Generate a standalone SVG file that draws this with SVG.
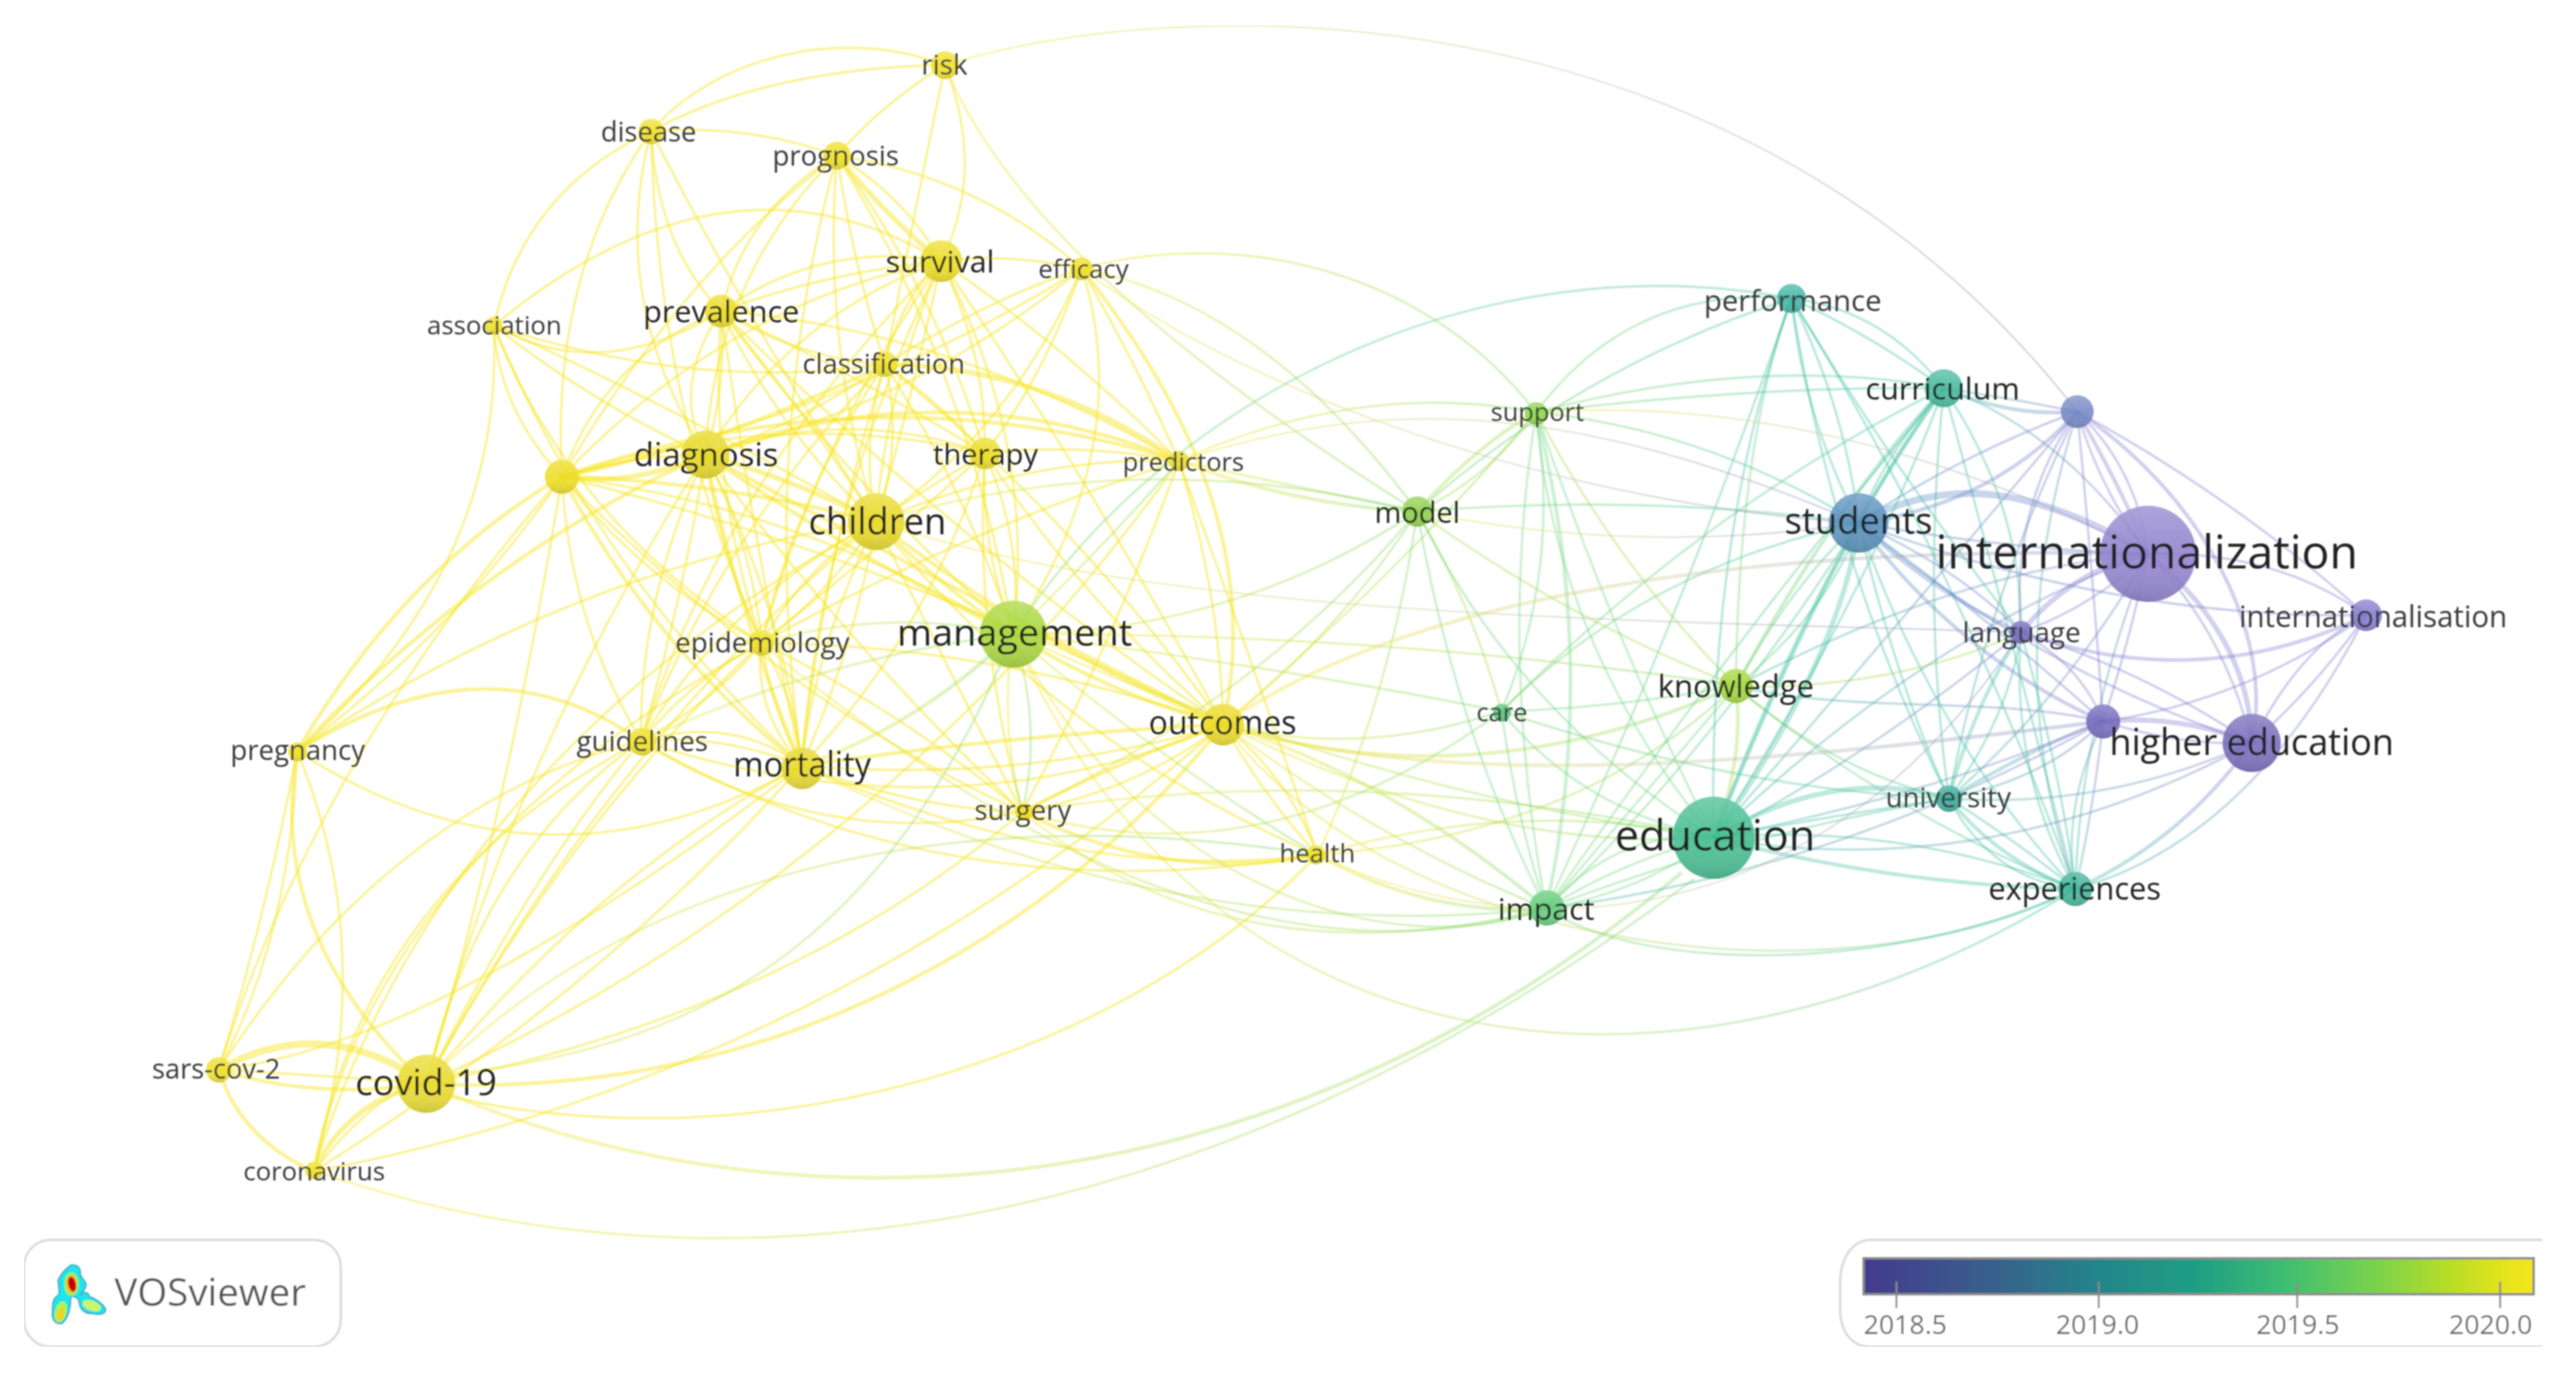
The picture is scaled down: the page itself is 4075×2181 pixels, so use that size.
<svg xmlns="http://www.w3.org/2000/svg" width="4075" height="2181" viewBox="0 0 4075 2181">
<style>
text{font-family:"Open Sans","Noto Sans","Liberation Sans",sans-serif}
.l{fill:#222;text-anchor:middle;transform:translateY(2px)}
.m{fill:#3a3a3a;text-anchor:middle;transform:translateY(2px)}
.e{fill:none;stroke-width:4;stroke-opacity:.34}
.e path{fill:none}
.n circle{opacity:.88}
.y{stroke:#f6e51e;stroke-opacity:.46}.yg{stroke:url(#gyg)}.yt{stroke:url(#gyt)}.yb{stroke:url(#gyb)}.g{stroke:#6fd680}.gt{stroke:url(#ggt)}.t{stroke:#3dbf9f}.tp{stroke:url(#gtp)}.bp{stroke:url(#gbp)}.p{stroke:#7f76cc}.lm{stroke:#a5dc4a}
.w3{stroke-width:3}.w6{stroke-width:6}.w8{stroke-width:8}.w10{stroke-width:11}
.box{fill:#fff;stroke:#dcdcdc;stroke-width:4}
</style>
<defs>
<filter id="soft" x="0" y="0" width="100%" height="100%"><feGaussianBlur stdDeviation="1"/></filter>
<linearGradient id="shade" x1="0" y1="0" x2="0" y2="1"><stop offset="0" stop-color="#fff" stop-opacity=".22"/><stop offset=".5" stop-color="#fff" stop-opacity="0"/><stop offset="1" stop-color="#000" stop-opacity=".14"/></linearGradient>
<linearGradient id="gyg"><stop offset="0" stop-color="#f6e51e"/><stop offset="1" stop-color="#7fd86a"/></linearGradient>
<linearGradient id="gyt"><stop offset="0" stop-color="#f6e51e"/><stop offset=".6" stop-color="#a0d870"/><stop offset="1" stop-color="#3dbf9f"/></linearGradient>
<linearGradient id="gyb"><stop offset="0" stop-color="#f6e51e"/><stop offset=".5" stop-color="#c4c79a"/><stop offset="1" stop-color="#7c84c8"/></linearGradient>
<linearGradient id="ggt"><stop offset="0" stop-color="#7fd86a"/><stop offset="1" stop-color="#3dbfa5"/></linearGradient>
<linearGradient id="gtp"><stop offset="0" stop-color="#3dbf9f"/><stop offset="1" stop-color="#7f76cc"/></linearGradient>
<linearGradient id="gbp"><stop offset="0" stop-color="#4f8fc0"/><stop offset="1" stop-color="#7f76cc"/></linearGradient>
<linearGradient id="vir"><stop offset="0" stop-color="#453a8e"/><stop offset=".2" stop-color="#38628c"/><stop offset=".36" stop-color="#23878a"/><stop offset=".5" stop-color="#1f9f84"/><stop offset=".63" stop-color="#3fbe72"/><stop offset=".75" stop-color="#74d052"/><stop offset=".87" stop-color="#b5dd28"/><stop offset=".96" stop-color="#e6e41a"/><stop offset="1" stop-color="#f5e51b"/></linearGradient>
</defs>
<rect width="4075" height="2181" fill="#fff"/>
<g filter="url(#soft)">
<g id="connectors">
<g class="e y">
<path d="M1030,208C1130,90 1330,40 1495,103"/><path d="M1030,208C1150,140 1320,105 1495,103"/><path d="M781,515Q830,300 1030,208"/><path d="M1495,103Q1400,160 1324,246"/><path d="M1495,103Q1450,320 1400,576"/><path d="M1495,103Q1560,270 1489,413"/>
<path d="M1030,208Q1180,195 1324,246"/><path d="M1030,208Q1040,390 1141,492"/><path d="M1030,208Q960,470 1116,719"/><path d="M1030,208Q1180,500 1386,825"/><path d="M1030,208Q870,430 889,754"/><path d="M1030,208Q1040,650 1205,1017"/>
<path class="w8" d="M1324,246Q1400,340 1489,413"/><path d="M1324,246Q1430,310 1489,413"/><path d="M1324,246Q1180,330 1141,492"/><path d="M1324,246Q1130,440 1116,719"/><path d="M1324,246Q1350,420 1400,576"/><path d="M1324,246Q1300,540 1386,825"/><path d="M1324,246Q1480,460 1558,717"/><path d="M1324,246Q1080,430 889,754"/><path d="M1324,246Q1550,280 1711,425"/><path d="M1324,246Q1530,580 1603,1003"/><path d="M1324,246Q1200,700 1268,1211"/>
<path d="M781,515Q1150,210 1489,413"/><path d="M1141,492Q1300,380 1489,413"/><path d="M1141,492Q1310,430 1489,413"/><path d="M1116,719Q1250,500 1489,413"/><path d="M889,754Q1150,480 1489,413"/><path d="M1489,413Q1420,480 1400,576"/><path d="M1489,413Q1400,620 1386,825"/><path d="M1489,413Q1440,640 1386,825"/><path d="M1489,413Q1560,560 1558,717"/><path d="M1489,413Q1640,700 1603,1003"/><path d="M1489,413Q1700,720 1935,1146"/><path d="M1489,413Q1290,700 1205,1017"/><path d="M1489,413Q1300,800 1268,1211"/><path d="M1489,413Q1700,560 1865,729"/><path d="M1489,413Q1600,400 1711,425"/><path d="M1489,413Q1150,750 1014,1172"/>
<path d="M1400,576Q1570,470 1711,425"/><path d="M1116,719Q1450,640 1711,425"/><path d="M889,754Q1350,650 1711,425"/><path d="M1386,825Q1600,680 1711,425"/><path d="M1558,717Q1650,600 1711,425"/><path d="M1603,1003Q1800,700 1711,425"/><path class="w6" d="M1711,425C1850,600 2000,850 1935,1146"/><path d="M1711,425Q1800,580 1865,729"/>
<path d="M781,515Q950,610 1141,492"/><path d="M1141,492Q1270,570 1400,576"/><path d="M1141,492Q1060,610 1116,719"/><path d="M1141,492Q1150,610 1116,719"/><path d="M889,754Q960,560 1141,492"/><path d="M1141,492Q1230,680 1386,825"/><path d="M1141,492Q1280,660 1386,825"/><path d="M1141,492Q1350,590 1558,717"/><path d="M1141,492Q1120,760 1205,1017"/><path d="M1141,492Q1340,760 1603,1003"/><path d="M1141,492Q1190,850 1268,1211"/><path d="M1141,492Q1500,850 1935,1146"/><path d="M1141,492Q1500,520 1865,729"/>
<path d="M781,515Q790,650 889,754"/><path d="M781,515Q940,640 1116,719"/><path d="M781,515Q1060,640 1386,825"/><path d="M781,515Q940,900 1268,1211"/><path d="M781,515Q1100,620 1400,576"/><path d="M781,515Q800,900 470,1188"/><path d="M781,515Q900,820 1205,1017"/>
<path d="M1116,719Q1270,670 1400,576"/><path class="w6" d="M889,754Q1150,700 1400,576"/><path d="M1400,576Q1490,640 1558,717"/><path d="M1400,576Q1360,700 1386,825"/><path d="M1400,576Q1430,700 1386,825"/><path d="M1400,576Q1530,780 1603,1003"/><path class="w8" d="M1400,576Q1650,580 1865,729"/><path d="M1400,576Q1260,780 1205,1017"/><path d="M1400,576Q1300,900 1268,1211"/><path d="M1400,576Q1700,820 1935,1146"/><path d="M1400,576Q1150,830 1014,1172"/>
<path class="w8" d="M889,754Q1000,770 1116,719"/><path d="M889,754Q1000,720 1116,719"/><path d="M1116,719Q1340,640 1558,717"/><path class="w8" d="M1116,719Q1260,760 1386,825"/><path class="w6" d="M1116,719Q1500,580 1865,729"/><path class="w6" d="M1116,719Q1350,880 1603,1003"/><path d="M1116,719Q1140,880 1205,1017"/><path d="M1116,719Q1190,860 1205,1017"/><path class="w6" d="M1116,719Q1170,980 1268,1211"/><path d="M1116,719Q1240,960 1268,1211"/><path d="M1116,719Q1010,950 1014,1172"/><path d="M1116,719Q1080,950 1014,1172"/><path class="w6" d="M1116,719Q1520,940 1935,1146"/><path d="M1116,719Q1340,1020 1617,1284"/><path class="w6" d="M1116,719Q760,880 470,1188"/><path d="M1116,719Q810,1200 674,1714"/>
<path d="M889,754Q1230,640 1558,717"/><path class="w6" d="M889,754Q1130,760 1386,825"/><path class="w6" d="M889,754Q1380,580 1865,729"/><path d="M889,754Q1260,800 1603,1003"/><path d="M889,754Q1020,920 1205,1017"/><path class="w6" d="M889,754Q1030,1020 1268,1211"/><path d="M889,754Q900,980 1014,1172"/><path class="w6" d="M889,754Q640,900 470,1188"/><path d="M889,754Q720,1000 470,1188"/><path d="M889,754Q800,1300 674,1714"/><path d="M889,754Q500,1200 346,1692"/><path d="M889,754Q1400,880 1935,1146"/><path d="M889,754Q1250,1120 1617,1284"/>
<path d="M1386,825Q1470,770 1558,717"/><path d="M1558,717Q1620,860 1603,1003"/><path d="M1558,717Q1550,860 1603,1003"/><path d="M1205,1017Q1400,860 1558,717"/><path d="M1268,1211Q1470,1000 1558,717"/><path d="M1558,717Q1720,960 1935,1146"/><path d="M1558,717Q1540,1000 1617,1284"/><path d="M1558,717Q1710,700 1865,729"/>
<path d="M1386,825Q1630,720 1865,729"/><path d="M1865,729Q1930,940 1935,1146"/><path d="M1617,1284Q1760,1020 1865,729"/><path d="M1205,1017Q1520,840 1865,729"/><path d="M1865,729Q2000,1100 2084,1352"/>
<path class="w6" d="M1386,825Q1490,930 1603,1003"/><path d="M1386,825Q1270,900 1205,1017"/><path d="M1386,825Q1310,940 1205,1017"/><path d="M1386,825Q1290,1020 1268,1211"/><path d="M1386,825Q1350,1030 1268,1211"/><path d="M1386,825Q1150,950 1014,1172"/><path class="w6" d="M1386,825Q1650,1030 1935,1146"/><path d="M1386,825Q1500,1060 1617,1284"/><path d="M470,1188Q900,900 1386,825"/><path d="M674,1714Q960,1180 1386,825"/><path d="M1386,825Q1680,1180 2084,1352"/>
<path d="M1014,1172Q1100,1070 1205,1017"/><path d="M1014,1172Q1130,1110 1205,1017"/><path d="M1205,1017Q1220,1120 1268,1211"/><path d="M1205,1017Q1260,1110 1268,1211"/><path d="M1205,1017Q1190,1120 1268,1211"/><path d="M1205,1017Q1420,1120 1617,1284"/><path d="M1205,1017Q1570,1020 1935,1146"/><path class="w6" d="M470,1188Q770,1000 1014,1172"/>
<path d="M1014,1172Q1140,1160 1268,1211"/><path d="M1014,1172Q1160,1130 1268,1211"/><path d="M1268,1211Q1450,1280 1617,1284"/><path class="w6" d="M1268,1211Q1620,1160 1935,1146"/><path d="M1268,1211Q1620,1240 1935,1146"/><path d="M1268,1211Q1700,1400 2084,1352"/><path d="M470,1188Q860,1440 1268,1211"/><path d="M674,1714Q950,1380 1268,1211"/><path d="M346,1692Q700,1650 1268,1211"/><path d="M496,1853Q960,1560 1268,1211"/>
<path d="M1014,1172Q1300,1350 1617,1284"/><path d="M1014,1172Q1500,1330 1935,1146"/><path d="M674,1714Q760,1350 1014,1172"/><path d="M674,1714Q840,1380 1014,1172"/><path d="M346,1692Q620,1270 1014,1172"/><path d="M1014,1172Q1500,1450 2084,1352"/>
<path d="M470,1188Q420,1450 346,1692"/><path d="M470,1188Q460,1480 346,1692"/><path class="w6" d="M470,1188Q420,1480 674,1714"/><path d="M470,1188Q600,1500 496,1853"/>
<path class="w10" d="M346,1692Q510,1600 674,1714"/><path d="M346,1692Q500,1700 674,1714"/><path class="w6" d="M346,1692Q500,1740 674,1714"/><path class="w8" d="M496,1853Q550,1740 674,1714"/><path class="w6" d="M346,1692Q380,1800 496,1853"/><path d="M674,1714Q900,1300 1205,1017"/><path d="M674,1714Q1250,1600 1617,1284"/><path class="w6" d="M674,1714C1200,1740 1650,1500 1935,1146"/><path d="M674,1725C1150,1850 1750,1700 2084,1352"/><path d="M674,1714Q1400,1380 1865,729"/>
<path d="M496,1853Q580,1400 1014,1172"/><path d="M496,1853Q600,1350 1205,1017"/><path d="M496,1853Q700,1200 1386,825"/><path d="M496,1853Q600,1720 674,1714"/><path d="M496,1853Q1300,1700 1935,1146"/>
<path class="w6" d="M1603,1003Q1760,1100 1935,1146"/><path class="w6" d="M1617,1284Q1780,1200 1935,1146"/><path d="M1617,1284Q1800,1250 1935,1146"/><path d="M1935,1146Q2000,1260 2084,1352"/><path d="M1935,1146Q2040,1230 2084,1352"/><path class="w6" d="M1617,1284Q1850,1400 2084,1352"/>
</g>
<g class="e yg">
<path d="M1495,103Q1620,420 2242,809"/><path d="M1711,425C1950,360 2250,420 2430,652"/><path d="M1711,425Q2000,480 2242,809"/>
<path class="w6" d="M1865,729Q2050,800 2242,809"/><path d="M1865,729Q2050,770 2242,809"/><path d="M1386,825Q1800,700 2242,809"/><path d="M1865,729Q2150,600 2430,652"/><path d="M1603,1003Q1740,870 1865,729"/>
<path class="w6" d="M1268,1211Q1450,1150 1603,1003"/><path d="M1014,1172Q1300,1040 1603,1003"/><path d="M1205,1017Q1400,960 1603,1003"/><path d="M1603,1003Q1580,1140 1617,1284"/><path d="M1603,1003Q1650,1150 1617,1284"/><path d="M1603,1003Q1830,1200 2084,1352"/><path d="M1603,1003Q1950,1000 2242,809"/><path d="M1603,1003Q2000,1050 2375,1125"/><path d="M1603,1003Q2180,1000 2746,1084"/>
<path class="w6" d="M674,1714C1150,1930 1950,1980 2660,1380"/><path d="M496,1851C1000,2030 1800,2050 2680,1390"/><path d="M700,1700C1100,1660 1400,1500 1603,1003"/><path d="M674,1714C1000,1380 1500,1260 2084,1352"/><path d="M1603,1003C1800,1400 2200,1530 2446,1437"/>
<path class="w6" d="M1935,1146Q2200,1230 2446,1437"/><path d="M1935,1146Q2180,1330 2446,1437"/><path d="M1935,1146Q2150,1200 2375,1125"/><path class="w6" d="M1935,1146Q2340,1270 2746,1084"/><path d="M1935,1146Q2350,1350 2711,1325"/><path d="M1935,1146Q2120,1000 2242,809"/><path d="M1935,1146Q2220,900 2430,652"/><path class="w6" d="M2084,1352Q2260,1450 2446,1437"/><path d="M2084,1352Q2500,1320 2746,1084"/><path d="M2084,1352Q2400,1260 2711,1325"/><path d="M1617,1284Q2150,1200 2711,1325"/><path d="M1617,1284Q1950,1560 2446,1437"/><path d="M1205,1017Q1900,1600 2446,1437"/><path d="M1617,1284Q2000,1400 2375,1125"/><path d="M1268,1211Q1850,1500 2446,1437"/><path d="M1617,1284Q2000,1100 2242,809"/><path d="M2242,809Q2200,1100 2084,1352"/><path d="M1603,1003Q2150,1250 2711,1325"/>
</g>
<g class="e lm">
<path class="w6" d="M2242,809Q2340,700 2430,652"/><path d="M2242,809Q2350,760 2430,652"/><path d="M2242,809Q2330,960 2375,1125"/><path d="M2242,809Q2480,980 2746,1084"/><path d="M2430,652Q2560,900 2746,1084"/><path class="w6" d="M2746,1086Q2760,1200 2711,1325"/><path d="M2746,1086Q3000,1090 3197,1000"/>
</g>
<g class="e g">
<path d="M2242,809Q2400,1130 2711,1325"/><path d="M2242,809Q2300,1150 2446,1437"/><path d="M2430,652Q2470,900 2375,1125"/><path d="M2430,652Q2460,1020 2711,1325"/><path d="M2430,652Q2560,1030 2711,1325"/><path class="w6" d="M2430,652Q2530,1050 2446,1437"/><path d="M2430,652Q2370,1030 2446,1437"/><path d="M2375,1125Q2400,1300 2446,1437"/><path d="M2375,1125Q2500,1280 2711,1325"/><path d="M2375,1125Q2560,1120 2746,1084"/><path d="M2746,1086Q2580,1280 2446,1437"/><path d="M2446,1437Q2570,1360 2711,1325"/><path d="M2446,1437Q2600,1410 2711,1325"/><path d="M2446,1437Q2560,1310 2711,1325"/>
</g>
<g class="e yt">
<path d="M1603,1003C1900,1700 2650,1800 3283,1406"/><path d="M1935,1146C2200,1500 2900,1600 3283,1406"/>
</g>
<g class="e gt">
<path d="M1603,1003C1850,620 2350,380 2834,472"/><path d="M2446,1437C2600,1540 3000,1540 3283,1406"/>
<path d="M2430,652Q2580,450 2834,472"/><path d="M2430,652Q2780,560 3075,614"/><path d="M2430,652Q2780,610 3075,614"/><path d="M2242,809Q2500,580 2834,472"/><path d="M2375,1125Q2600,900 2940,827"/><path d="M2375,1125Q2700,800 3075,614"/><path d="M2375,1125Q2750,1250 3083,1263"/><path d="M2746,1086Q2830,930 2940,827"/><path d="M2746,1086Q2900,960 2940,827"/><path class="w6" d="M2746,1086Q2900,800 3075,614"/><path d="M2746,1086Q2900,1220 3083,1263"/><path d="M2746,1086Q2980,1280 3283,1406"/><path d="M2746,1086Q2750,700 2834,472"/>
<path d="M2446,1437Q2700,1200 2940,827"/><path d="M2446,1437Q2750,1320 3083,1263"/><path d="M2446,1437Q2650,1000 2834,472"/><path d="M2446,1437Q2750,1000 3075,614"/><path d="M2242,809Q2600,780 2940,827"/><path d="M2430,652Q2700,680 2940,827"/>
</g>
<g class="e t">
<path class="w8" d="M2711,1325C2800,1200 2920,1000 2940,827"/><path class="w6" d="M2711,1325Q2820,1050 2940,827"/><path class="w6" d="M2711,1325Q2870,900 3075,614"/><path d="M2711,1325Q2950,950 3075,614"/><path d="M2711,1325Q2700,850 2834,472"/><path class="w8" d="M2711,1325Q2900,1210 3083,1263"/><path d="M2711,1325Q2900,1290 3083,1263"/><path class="w6" d="M2711,1325Q3000,1400 3283,1406"/><path d="M2711,1325Q3000,1300 3283,1406"/>
<path d="M2834,472Q2980,490 3075,614"/><path d="M2834,472Q2960,530 3075,614"/><path d="M2834,472Q2850,650 2940,827"/><path d="M2834,472Q2920,650 2940,827"/><path d="M2834,472Q3000,750 3197,1000"/><path d="M2834,472Q2900,900 3083,1263"/><path d="M2834,472Q3100,900 3283,1406"/>
<path class="w6" d="M2940,827Q3010,700 3075,614"/><path d="M2940,827Q2980,720 3075,614"/><path d="M3075,614Q3040,950 3083,1263"/><path d="M3075,614Q3180,1000 3283,1406"/><path d="M3075,614Q3200,800 3197,1000"/><path d="M2940,827Q3000,1080 3083,1263"/><path d="M2940,827Q3060,1170 3283,1406"/>
<path class="w6" d="M3083,1263Q3160,1360 3283,1406"/><path d="M3083,1263Q3190,1330 3283,1406"/><path d="M3083,1263Q3150,1390 3283,1406"/><path class="w6" d="M3083,1263Q3120,1120 3197,1000"/><path d="M3083,1263Q3180,1130 3197,1000"/><path d="M3197,1000Q3180,1220 3283,1406"/><path d="M3197,1000Q3260,1220 3283,1406"/>
</g>
<g class="e tp">
<path d="M2711,1325Q2950,1200 3197,1000"/><path d="M2711,1325Q3050,1260 3327,1141"/><path d="M2711,1325Q3150,1400 3562,1175"/><path d="M2711,1325Q3050,1000 3398,876"/><path d="M2711,1325Q2950,1050 3286,651"/><path d="M2446,1437Q2900,1380 3327,1141"/>
<path d="M2746,1086C2950,1130 3150,1100 3327,1141"/><path d="M2746,1086Q3100,900 3398,876"/>
<path class="w6" d="M3075,614Q3180,660 3286,651"/><path d="M3075,614Q3180,630 3286,651"/><path d="M3075,614Q3260,680 3398,876"/><path d="M3286,651Q3140,950 3083,1263"/><path d="M3286,651Q3160,1050 3283,1406"/>
<path d="M3083,1263Q3270,1100 3398,876"/><path d="M3398,876Q3290,1150 3283,1406"/><path class="w6" d="M3083,1263Q3220,1180 3327,1141"/><path d="M3083,1263Q3240,1230 3327,1141"/><path d="M3327,1141Q3260,1280 3283,1406"/><path d="M3327,1141Q3310,1290 3283,1406"/><path class="w6" d="M3283,1406Q3450,1330 3562,1175"/><path d="M3283,1406Q3560,1330 3743,973"/><path d="M3083,1263Q3330,1280 3562,1175"/>
</g>
<g class="e bp">
<path class="w6" d="M2940,827Q3150,800 3286,651"/><path d="M2940,827Q3100,720 3286,651"/><path class="w10" d="M2940,827C3080,750 3220,770 3398,876"/><path d="M2940,827Q3180,870 3398,876"/><path class="w6" d="M2940,827Q3060,940 3197,1000"/><path d="M2940,827Q3100,900 3197,1000"/><path class="w6" d="M2940,827Q3100,1040 3327,1141"/><path d="M2940,827Q3160,990 3327,1141"/><path d="M2940,827Q3220,1060 3562,1175"/><path d="M2940,827Q3350,980 3743,973"/>
</g>
<g class="e p">
<path d="M3286,651Q3380,740 3398,876"/><path d="M3286,651Q3320,770 3398,876"/><path class="w6" d="M3286,651Q3360,780 3398,876"/><path class="w6" d="M3286,651C3480,780 3600,1000 3562,1175"/><path d="M3286,651Q3180,800 3197,1000"/><path d="M3286,651Q3310,900 3327,1141"/><path d="M3286,651Q3540,790 3743,973"/>
<path class="w8" d="M3197,1000Q3280,900 3398,876"/><path d="M3197,1000Q3310,960 3398,876"/><path d="M3327,1141Q3370,1010 3398,876"/><path class="w8" d="M3398,876C3490,950 3560,1050 3562,1175"/><path d="M3398,876Q3520,1000 3562,1175"/><path d="M3398,876Q3600,870 3743,973"/>
<path class="w6" d="M3197,1000Q3480,1100 3743,973"/><path d="M3562,1175Q3660,1090 3743,973"/><path d="M3562,1175Q3640,1020 3743,973"/><path d="M3327,1141Q3550,1110 3743,973"/>
<path class="w8" d="M3327,1141Q3450,1130 3562,1175"/><path d="M3327,1141Q3450,1180 3562,1175"/><path d="M3197,1000Q3290,1050 3327,1141"/><path d="M3197,1000Q3390,1060 3562,1175"/>
</g>
<g class="e yb">
<path class="w3" d="M1495,103C1850,-10 2750,-40 3286,651"/><path class="w3" d="M1711,425C2000,640 2500,800 2940,827"/><path class="w3" d="M1386,825C1850,980 2600,980 3197,1000"/><path class="w6" d="M1935,1146C2200,960 2700,860 3398,876"/><path class="w6" d="M1935,1146C2300,1260 2850,1200 3327,1141"/><path class="w3" d="M2084,1352C2350,1480 2850,1530 3197,1000"/><path class="w3" d="M2430,652Q2900,620 3398,876"/><path class="w3" d="M2242,809Q2600,880 2940,827"/><path class="w3" d="M1865,729C2200,620 2500,640 2940,827"/>
</g>
</g>
<g id="n-risk" class="n"><circle cx="1495" cy="103" r="22" fill="#efe028"/><circle cx="1495" cy="103" r="22" fill="url(#shade)"/><text class="m" x="1494" y="116" font-size="44" textLength="73" lengthAdjust="spacingAndGlyphs">risk</text></g>
<g id="n-disease" class="n"><circle cx="1030" cy="208" r="20" fill="#efe028"/><circle cx="1030" cy="208" r="20" fill="url(#shade)"/><text class="m" x="1026" y="222" font-size="43" textLength="151" lengthAdjust="spacingAndGlyphs">disease</text></g>
<g id="n-prognosis" class="n"><circle cx="1324" cy="246" r="22" fill="#efe028"/><circle cx="1324" cy="246" r="22" fill="url(#shade)"/><text class="m" x="1322" y="260" font-size="43" textLength="200" lengthAdjust="spacingAndGlyphs">prognosis</text></g>
<g id="n-survival" class="n"><circle cx="1489" cy="413" r="33" fill="#ecdd26"/><circle cx="1489" cy="413" r="33" fill="url(#shade)"/><text class="l" x="1487" y="429" font-size="48" textLength="172" lengthAdjust="spacingAndGlyphs">survival</text></g>
<g id="n-efficacy" class="n"><circle cx="1711" cy="425" r="18" fill="#efe028"/><circle cx="1711" cy="425" r="18" fill="url(#shade)"/><text class="m" x="1714" y="438" font-size="41" textLength="143" lengthAdjust="spacingAndGlyphs">efficacy</text></g>
<g id="n-prevalence" class="n"><circle cx="1141" cy="492" r="26" fill="#ecdd26"/><circle cx="1141" cy="492" r="26" fill="url(#shade)"/><text class="l" x="1141" y="508" font-size="48" textLength="247" lengthAdjust="spacingAndGlyphs">prevalence</text></g>
<g id="n-association" class="n"><circle cx="781" cy="515" r="14" fill="#efe028"/><circle cx="781" cy="515" r="14" fill="url(#shade)"/><text class="m" x="782" y="527" font-size="41" textLength="213" lengthAdjust="spacingAndGlyphs">association</text></g>
<g id="n-classification" class="n"><circle cx="1400" cy="576" r="20" fill="#efe028"/><circle cx="1400" cy="576" r="20" fill="url(#shade)"/><text class="m" x="1398" y="589" font-size="43" textLength="257" lengthAdjust="spacingAndGlyphs">classification</text></g>
<g id="n-diagnosis" class="n"><circle cx="1116" cy="719" r="38" fill="#e6d82a"/><circle cx="1116" cy="719" r="38" fill="url(#shade)"/><text class="l" x="1117" y="735" font-size="52" textLength="229" lengthAdjust="spacingAndGlyphs">diagnosis</text></g>
<g id="n-unlabeled-left" class="n"><circle cx="889" cy="754" r="27" fill="#ecdd26"/><circle cx="889" cy="754" r="27" fill="url(#shade)"/></g>
<g id="n-therapy" class="n"><circle cx="1558" cy="717" r="25" fill="#ecdd26"/><circle cx="1558" cy="717" r="25" fill="url(#shade)"/><text class="l" x="1559" y="733" font-size="46" textLength="166" lengthAdjust="spacingAndGlyphs">therapy</text></g>
<g id="n-predictors" class="n"><circle cx="1865" cy="729" r="16" fill="#e6dc2a"/><circle cx="1865" cy="729" r="16" fill="url(#shade)"/><text class="m" x="1872" y="743" font-size="40" textLength="192" lengthAdjust="spacingAndGlyphs">predictors</text></g>
<g id="n-children" class="n"><circle cx="1386" cy="825" r="45" fill="#e8da2a"/><circle cx="1386" cy="825" r="45" fill="url(#shade)"/><text class="l" x="1388" y="843" font-size="58" textLength="218" lengthAdjust="spacingAndGlyphs">children</text></g>
<g id="n-management" class="n"><circle cx="1603" cy="1003" r="53" fill="#a6d63a"/><circle cx="1603" cy="1003" r="53" fill="url(#shade)"/><text class="l" x="1605" y="1019" font-size="59" textLength="372" lengthAdjust="spacingAndGlyphs">management</text></g>
<g id="n-epidemiology" class="n"><circle cx="1205" cy="1017" r="20" fill="#efe028"/><circle cx="1205" cy="1017" r="20" fill="url(#shade)"/><text class="m" x="1206" y="1030" font-size="44" textLength="276" lengthAdjust="spacingAndGlyphs">epidemiology</text></g>
<g id="n-outcomes" class="n"><circle cx="1935" cy="1146" r="33" fill="#ebd926"/><circle cx="1935" cy="1146" r="33" fill="url(#shade)"/><text class="l" x="1934" y="1159" font-size="51" textLength="234" lengthAdjust="spacingAndGlyphs">outcomes</text></g>
<g id="n-mortality" class="n"><circle cx="1269" cy="1215" r="33" fill="#e6d82a"/><circle cx="1269" cy="1215" r="33" fill="url(#shade)"/><text class="l" x="1269" y="1226" font-size="54" textLength="218" lengthAdjust="spacingAndGlyphs">mortality</text></g>
<g id="n-guidelines" class="n"><circle cx="1016" cy="1173" r="22" fill="#efe028"/><circle cx="1016" cy="1173" r="22" fill="url(#shade)"/><text class="m" x="1016" y="1186" font-size="44" textLength="208" lengthAdjust="spacingAndGlyphs">guidelines</text></g>
<g id="n-pregnancy" class="n"><circle cx="471" cy="1189" r="15" fill="#efe028"/><circle cx="471" cy="1189" r="15" fill="url(#shade)"/><text class="m" x="471" y="1200" font-size="43" textLength="213" lengthAdjust="spacingAndGlyphs">pregnancy</text></g>
<g id="n-surgery" class="n"><circle cx="1620" cy="1284" r="14" fill="#efe018"/><circle cx="1620" cy="1284" r="14" fill="url(#shade)"/><text class="m" x="1618" y="1295" font-size="43" textLength="153" lengthAdjust="spacingAndGlyphs">surgery</text></g>
<g id="n-health" class="n"><circle cx="2082" cy="1352" r="15" fill="#efe018"/><circle cx="2082" cy="1352" r="15" fill="url(#shade)"/><text class="m" x="2084" y="1362" font-size="41" textLength="120" lengthAdjust="spacingAndGlyphs">health</text></g>
<g id="n-impact" class="n"><circle cx="2447" cy="1436" r="28" fill="#62cc7a"/><circle cx="2447" cy="1436" r="28" fill="url(#shade)"/><text class="l" x="2446" y="1453" font-size="48" textLength="153" lengthAdjust="spacingAndGlyphs">impact</text></g>
<g id="n-care" class="n"><circle cx="2376" cy="1127" r="14" fill="#56c47a"/><circle cx="2376" cy="1127" r="14" fill="url(#shade)"/><text class="m" x="2376" y="1139" font-size="40" textLength="81" lengthAdjust="spacingAndGlyphs">care</text></g>
<g id="n-model" class="n"><circle cx="2242" cy="809" r="24" fill="#8ecf4c"/><circle cx="2242" cy="809" r="24" fill="url(#shade)"/><text class="l" x="2242" y="825" font-size="46" textLength="135" lengthAdjust="spacingAndGlyphs">model</text></g>
<g id="n-support" class="n"><circle cx="2430" cy="654" r="18" fill="#8ed64a"/><circle cx="2430" cy="654" r="18" fill="url(#shade)"/><text class="m" x="2432" y="664" font-size="40" textLength="148" lengthAdjust="spacingAndGlyphs">support</text></g>
<g id="n-covid-19" class="n"><circle cx="674" cy="1714" r="46" fill="#e8da2a"/><circle cx="674" cy="1714" r="46" fill="url(#shade)"/><text class="l" x="674" y="1730" font-size="57" textLength="224" lengthAdjust="spacingAndGlyphs">covid-19</text></g>
<g id="n-sars-cov-2" class="n"><circle cx="346" cy="1692" r="20" fill="#efe028"/><circle cx="346" cy="1692" r="20" fill="url(#shade)"/><text class="m" x="342" y="1704" font-size="43" textLength="203" lengthAdjust="spacingAndGlyphs">sars-cov-2</text></g>
<g id="n-coronavirus" class="n"><circle cx="497" cy="1851" r="14" fill="#efe028"/><circle cx="497" cy="1851" r="14" fill="url(#shade)"/><text class="m" x="497" y="1865" font-size="41" textLength="224" lengthAdjust="spacingAndGlyphs">coronavirus</text></g>
<g id="n-performance" class="n"><circle cx="2834" cy="472" r="23" fill="#3fb5a5"/><circle cx="2834" cy="472" r="23" fill="url(#shade)"/><text class="m" x="2836" y="490" font-size="46" textLength="281" lengthAdjust="spacingAndGlyphs">performance</text></g>
<g id="n-curriculum" class="n"><circle cx="3075" cy="614" r="30" fill="#45b89c"/><circle cx="3075" cy="614" r="30" fill="url(#shade)"/><text class="l" x="3073" y="630" font-size="48" textLength="244" lengthAdjust="spacingAndGlyphs">curriculum</text></g>
<g id="n-unlabeled-right" class="n"><circle cx="3286" cy="651" r="26" fill="#7488c4"/><circle cx="3286" cy="651" r="26" fill="url(#shade)"/></g>
<g id="n-students" class="n"><circle cx="2940" cy="827" r="47" fill="#568ebb"/><circle cx="2940" cy="827" r="47" fill="url(#shade)"/><text class="l" x="2940" y="842" font-size="58" textLength="234" lengthAdjust="spacingAndGlyphs">students</text></g>
<g id="n-internationalization" class="n"><circle cx="3398" cy="876" r="76" fill="#8d80cc"/><circle cx="3398" cy="876" r="76" fill="url(#shade)"/><text class="l" x="3396" y="897" font-size="74" textLength="668" lengthAdjust="spacingAndGlyphs">internationalization</text></g>
<g id="n-internationalisation" class="n"><circle cx="3743" cy="973" r="25" fill="#8478cc"/><circle cx="3743" cy="973" r="25" fill="url(#shade)"/><text class="m" x="3754" y="990" font-size="47" textLength="424" lengthAdjust="spacingAndGlyphs">internationalisation</text></g>
<g id="n-language" class="n"><circle cx="3197" cy="1000" r="18" fill="#7468bc"/><circle cx="3197" cy="1000" r="18" fill="url(#shade)"/><text class="m" x="3198" y="1014" font-size="44" textLength="187" lengthAdjust="spacingAndGlyphs">language</text></g>
<g id="n-unlabeled-purple" class="n"><circle cx="3327" cy="1141" r="27" fill="#7268bc"/><circle cx="3327" cy="1141" r="27" fill="url(#shade)"/></g>
<g id="n-higher-education" class="n"><circle cx="3562" cy="1175" r="46" fill="#7468b8"/><circle cx="3562" cy="1175" r="46" fill="url(#shade)"/><text class="l" x="3562" y="1192" font-size="58" textLength="450" lengthAdjust="spacingAndGlyphs">higher education</text></g>
<g id="n-university" class="n"><circle cx="3083" cy="1263" r="21" fill="#3ba898"/><circle cx="3083" cy="1263" r="21" fill="url(#shade)"/><text class="m" x="3082" y="1275" font-size="44" textLength="198" lengthAdjust="spacingAndGlyphs">university</text></g>
<g id="n-experiences" class="n"><circle cx="3283" cy="1406" r="27" fill="#3db296"/><circle cx="3283" cy="1406" r="27" fill="url(#shade)"/><text class="l" x="3282" y="1421" font-size="49" textLength="273" lengthAdjust="spacingAndGlyphs">experiences</text></g>
<g id="n-knowledge" class="n"><circle cx="2746" cy="1085" r="27" fill="#a4d63a"/><circle cx="2746" cy="1085" r="27" fill="url(#shade)"/><text class="l" x="2746" y="1101" font-size="49" textLength="247" lengthAdjust="spacingAndGlyphs">knowledge</text></g>
<g id="n-education" class="n"><circle cx="2711" cy="1325" r="65" fill="#41bb90"/><circle cx="2711" cy="1325" r="65" fill="url(#shade)"/><text class="l" x="2713" y="1343" font-size="68" textLength="317" lengthAdjust="spacingAndGlyphs">education</text></g>
<g id="logo">
<rect class="box" x="38" y="1961" width="501" height="169" rx="42"/>
<g transform="translate(0 3)">
<path d="M112,1998C122,1996 128,2003 127,2012C128,2020 137,2022 136,2030C135,2038 127,2043 126,2046C133,2038 141,2042 141,2048C146,2048 165,2060 167,2068C167,2076 155,2077 147,2074C136,2076 127,2068 126,2060C125,2054 125,2050 118,2048L112,2046C112,2062 110,2080 98,2090C88,2092 82,2084 83,2074C83,2060 83,2050 92,2046C96,2040 92,2030 92,2022C96,2012 104,2004 112,1998Z" fill="#1be6ee" stroke="#3fb8cc" stroke-width="3"/>
<ellipse cx="113" cy="2028" rx="12" ry="19" fill="#8ef07a"/>
<ellipse cx="113" cy="2028" rx="9" ry="15" fill="#f5c020"/>
<ellipse cx="114" cy="2028" rx="6" ry="12" fill="#c80000" transform="rotate(-12 114 2028)"/>
<ellipse cx="96" cy="2072" rx="9" ry="17" fill="#b8f04a" transform="rotate(15 96 2072)"/>
<ellipse cx="96" cy="2076" rx="5" ry="10" fill="#f5d020" transform="rotate(15 96 2076)"/>
<ellipse cx="145" cy="2062" rx="15" ry="8" fill="#c8f56a" transform="rotate(20 145 2062)"/>
</g>
<text x="181" y="2065" font-size="60" fill="#555" textLength="303" lengthAdjust="spacingAndGlyphs">VOSviewer</text>
</g>
<g id="legend">
<path class="box" d="M4022,1961H2960C2930,1961 2911,1990 2911,2030V2070C2911,2108 2930,2130 2960,2130H4022"/>
<rect x="2948" y="1990" width="1060" height="57" fill="url(#vir)" stroke="#8c8c8c" stroke-width="4"/>
<path d="M3000,2027V2069M3320,2027V2069M3634,2027V2069M3955,2027V2069" stroke="#8a8a8a" stroke-width="3" fill="none"/>
<g font-size="42" fill="#666" text-anchor="middle">
<text x="3014" y="2110" textLength="132" lengthAdjust="spacingAndGlyphs">2018.5</text>
<text x="3318" y="2110" textLength="132" lengthAdjust="spacingAndGlyphs">2019.0</text>
<text x="3635" y="2110" textLength="132" lengthAdjust="spacingAndGlyphs">2019.5</text>
<text x="3940" y="2110" textLength="132" lengthAdjust="spacingAndGlyphs">2020.0</text>
</g>
</g>
</g>
</svg>
